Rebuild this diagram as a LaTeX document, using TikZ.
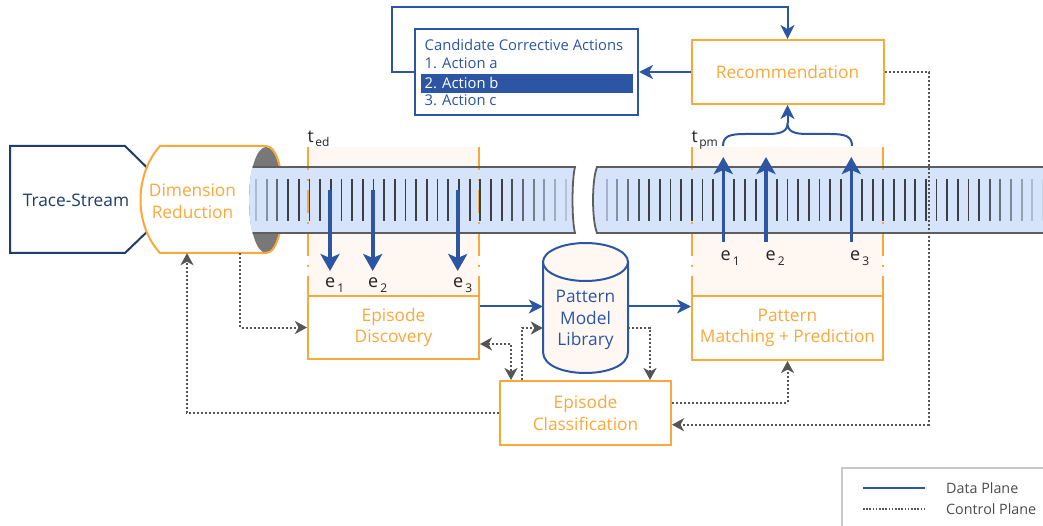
\documentclass[tikz,border=0pt]{standalone}
\usepackage{fontspec}
\setmainfont{Open Sans}
\usetikzlibrary{arrows.meta,calc}
\definecolor{orng}{HTML}{FAA83A}
\definecolor{dblue}{HTML}{2C56A4}
\definecolor{navy}{HTML}{1E3D6B}
\definecolor{ctrlc}{HTML}{555555}
\definecolor{peach}{HTML}{FFF8F2}
\definecolor{tubef}{HTML}{D5E4FA}
\definecolor{tubee}{HTML}{5E5E5E}
\definecolor{tickc}{HTML}{3A3F48}
\definecolor{lbl}{HTML}{222222}
\definecolor{legc}{HTML}{4A4A4A}
\definecolor{legbox}{HTML}{C8C8C8}
\definecolor{cylgray}{HTML}{787878}
\newcommand{\esub}[1]{e\hspace{2pt}\raisebox{-5pt}{\fontsize{12}{12}\selectfont #1}}
\newcommand{\tsub}[1]{t\hspace{1.5pt}\raisebox{-4pt}{\fontsize{12}{12}\selectfont #1}}
\tikzset{
  ctip/.tip={Stealth[length=12pt,width=13pt,inset=3.5pt]},
  dtip/.tip={Stealth[length=14pt,width=14pt,inset=4pt]},
  btip/.tip={Stealth[length=17pt,width=19pt,inset=4pt]},
}
\begin{document}
\begin{tikzpicture}[x=1pt,y=-1pt,
  mainfont/.style={font=\fontsize{17.3}{21.5}\selectfont},
  box/.style={draw=orng,line width=2pt,fill=white,text=orng,mainfont,align=center,inner sep=0pt},
  data/.style={draw=dblue,line width=2pt,-dtip},
  bigdata/.style={draw=dblue,line width=3.6pt,-btip},
  ctrl/.style={draw=ctrlc,line width=2pt,dash pattern=on 2pt off 2pt,-ctip},
  win/.style={draw=orng,line width=2pt,dash pattern=on 23pt off 9pt on 2pt off 9pt},
  tubeline/.style={draw=tubee,line width=1.8pt},
  tickline/.style={line width=1.8pt},
  elabel/.style={text=lbl,font=\fontsize{18}{18}\selectfont,inner sep=0pt,anchor=base west},
  candtext/.style={text=dblue,font=\fontsize{14.8}{17}\selectfont,inner sep=0pt,anchor=west},
  legtext/.style={text=legc,font=\fontsize{14.3}{17}\selectfont,inner sep=0pt,anchor=west},
]
\useasboundingbox (0,0) rectangle (1043,526);

% episode windows
\fill[peach] (308,147) rectangle (479,296);
\fill[peach] (692,147) rectangle (883,296);

% trace stream
\draw[navy,line width=2pt,fill=white] (10,146) -- (125,146) -- (180,200) -- (125,253) -- (10,253) -- cycle;
\node[text=navy,mainfont,inner sep=0pt] (ts) at (76,200) {Trace-Stream};

% dimension reduction cylinder
\fill[white] (160,146) -- (266,146) .. controls (288.7,146) and (288.7,253) .. (266,253) -- (160,253) .. controls (134,225) and (134,175) .. (160,146) -- cycle;
\fill[cylgray] (266,200) ellipse [x radius=17, y radius=53];
\draw[orng,line width=2pt] (266,253) -- (160,253) .. controls (134,225) and (134,175) .. (160,146) -- (266,146) .. controls (288.7,146) and (288.7,253) .. (266,253);
\node[minimum width=143pt,minimum height=107pt,inner sep=0pt] (dr) at (211.5,199.5) {};
\node[text=orng,mainfont,align=center,inner sep=0pt] (drt) at (192.5,201) {Dimension\\Reduction};

% tube fills
\fill[tubef] (252.7,167) -- (575,167) .. controls (571.7,180) and (571.7,220) .. (575,233) -- (252.7,233) .. controls (248,222) and (248,178) .. (252.7,167) -- cycle;
\fill[tubef] (1050,167) -- (597,167) .. controls (591.7,180) and (591.7,220) .. (597,233) -- (1050,233) -- cycle;

% window boundaries
\draw[win] (308,147) -- (308,296);
\draw[win] (479,147) -- (479,296);
\draw[win] (692,147) -- (692,296);
\draw[win] (883,147) -- (883,296);

% ticks
\foreach \i in {0,...,29}{
  \pgfmathsetmacro\xx{256+10.68*\i}
  \pgfmathtruncatemacro\pp{min(100,min(25+25*\i,20+14*(29-\i)))}
  \draw[tickline,draw=tickc!\pp!tubef] (\xx,179) -- (\xx,221);
}
\foreach \i in {0,...,41}{
  \pgfmathsetmacro\xx{606.7+10.64*\i}
  \pgfmathtruncatemacro\pp{min(100,min(30+20*\i,10+15*(41-\i)))}
  \draw[tickline,draw=tickc!\pp!tubef] (\xx,179) -- (\xx,221);
}

% tube outlines
\draw[tubeline] (252.7,167) -- (575,167) .. controls (571.7,180) and (571.7,220) .. (575,233) -- (252.7,233);
\draw[tubeline] (1050,167) -- (597,167) .. controls (591.7,180) and (591.7,220) .. (597,233) -- (1050,233);

% window labels
\node[elabel,font=\fontsize{17.5}{17.5}\selectfont] (ted) at (307.5,142.5) {\tsub{ed}};
\node[elabel,font=\fontsize{17.5}{17.5}\selectfont] (tpm) at (691.5,143) {\tsub{pm}};

% episode arrows (discovery)
\draw[bigdata] (330,190) -- (330,271);
\draw[bigdata] (372.7,190) -- (372.7,271);
\draw[bigdata] (457.7,190) -- (457.7,271);
\node[elabel] (e1a) at (325,287.5) {\esub{1}};
\node[elabel] (e2a) at (368,287.5) {\esub{2}};
\node[elabel] (e3a) at (453,287.5) {\esub{3}};

% episode arrows (matching)
\draw[bigdata] (723.3,242) -- (723.3,157);
\draw[bigdata] (766,242) -- (766,157);
\draw[bigdata] (851.3,242) -- (851.3,157);
\node[elabel] (e1b) at (720.5,261) {\esub{1}};
\node[elabel] (e2b) at (765.5,261) {\esub{2}};
\node[elabel] (e3b) at (850,261) {\esub{3}};

% brace
\draw[dblue,line width=2pt] (723,146) .. controls (723,136) and (730,134) .. (745,134) -- (768,134) .. controls (782,134) and (787.5,131) .. (787.5,123) .. controls (787.5,131) and (793,134) .. (807,134) -- (830,134) .. controls (845,134) and (852,136) .. (852,146);
\coordinate (bracetip) at (787.5,123);

% boxes
\node[box,minimum width=192pt,minimum height=64pt] (rec) at (787.5,72) {Recommendation};
\node[box,minimum width=171pt,minimum height=63pt] (ed) at (393.5,327.5) {Episode\\Discovery};
\node[box,minimum width=191pt,minimum height=64pt] (pm) at (787.5,328) {Pattern\\Matching + Prediction};
\node[box,minimum width=171pt,minimum height=64pt] (ec) at (585.5,413) {Episode\\Classification};

% candidate actions
\node[draw=dblue,line width=2pt,fill=white,minimum width=223pt,minimum height=86pt,inner sep=0pt] (cand) at (526.5,72) {};
\node[fill=dblue,minimum width=212.3pt,minimum height=19pt,inner sep=0pt] (bar) at (526.85,83.5) {};
\node[candtext] (c0) at (424.5,45) {Candidate Corrective Actions};
\node[candtext] (c1) at (424.5,63.5) {1. Action a};
\node[candtext,text=white] (c2) at (424.5,83.3) {2. Action b};
\node[candtext] (c3) at (424.5,100.5) {3. Action c};

% pattern model library
\draw[dblue,line width=2pt,fill=peach] (543,262) -- (543,352) .. controls (543,380) and (628,380) .. (628,352) -- (628,262);
\draw[dblue,line width=2pt,fill=peach] (585.5,262) ellipse [x radius=42.5, y radius=19];
\node[minimum width=85pt,minimum height=130pt,inner sep=0pt] (pml) at (585.5,308) {};
\node[text=dblue,mainfont,align=center,inner sep=0pt] (pmlt) at (585.5,320) {Pattern\\Model\\Library};

% data connectors
\draw[data] ([yshift=21pt]ed.east) -- ([yshift=1.5pt]pml.west);
\draw[data] ([yshift=1.5pt]pml.east) -- ([yshift=21.5pt]pm.west);
\draw[data] (rec.west) -- (cand.east);
\draw[data] (cand.west) -- ++(-22,0) |- ([yshift=32pt]rec.north) -- (rec.north);
\draw[data] (bracetip) -- (rec.south);

% control connectors
\draw[ctrl] ([xshift=28.5pt]dr.south) |- (ed.west);
\draw[ctrl] (ec.west) -| ([xshift=-24.5pt]dr.south);
\draw[ctrl,ctip-ctip] ([yshift=-16.5pt]ed.east) -| ([xshift=-74.5pt]ec.north);
\draw[ctrl] ([xshift=-63.5pt]ec.north) |- ([yshift=-20pt]pml.west);
\draw[ctrl] ([yshift=-20pt]pml.east) -| ([xshift=64.5pt]ec.north);
\draw[ctrl] ([yshift=10.3pt]ec.east) -| (pm.south);
\draw[ctrl] (rec.east) -- ++(44,0) |- ([yshift=-11.7pt]ec.east);

% legend
\node[draw=legbox,line width=2pt,minimum width=230pt,minimum height=90pt,inner sep=0pt,anchor=north west] (leg) at (841,467) {};
\coordinate (ld1) at (863,488);
\coordinate (ld2) at (925,488);
\coordinate (lc1) at (863,509);
\coordinate (lc2) at (925,509);
\draw[dblue,line width=2pt] (ld1) -- (ld2);
\draw[ctrlc,line width=1.5pt,dash pattern=on 1.5pt off 1.7pt] (lc1) -- (lc2);
\node[legtext] (lt1) at (946,488) {Data Plane};
\node[legtext] (lt2) at (946,509) {Control Plane};
\end{tikzpicture}
\end{document}
